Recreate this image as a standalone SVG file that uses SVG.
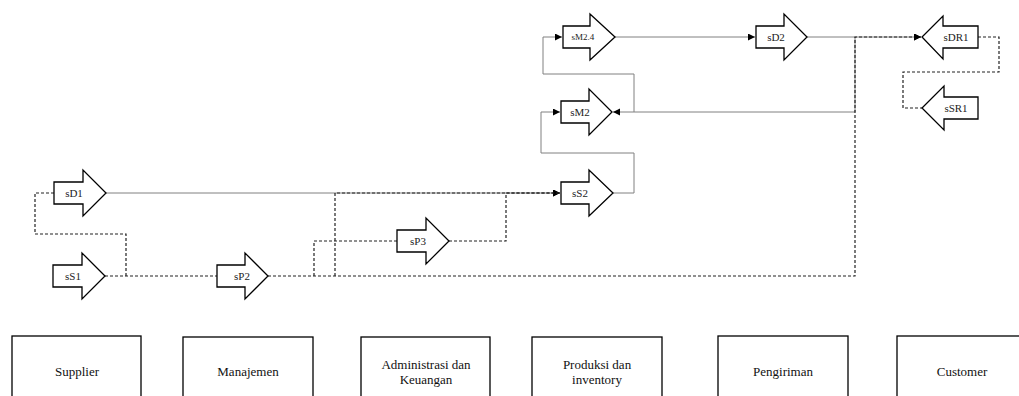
<svg xmlns="http://www.w3.org/2000/svg" width="1019" height="396" viewBox="0 0 1019 396">
  <style>
    .proc { fill: #ffffff; stroke: #000000; stroke-width: 1.3; stroke-linejoin: miter; }
    .lbl { font-family: "Liberation Serif", "Times New Roman", serif; font-size: 11px; fill: #222222; text-anchor: middle; }
    .lbl-s { font-size: 9px; }
    .lane { fill: #ffffff; stroke: #000000; stroke-width: 1.3; }
    .lane-t { font-family: "Liberation Serif", "Times New Roman", serif; font-size: 13px; fill: #111111; text-anchor: middle; }
    .flow { fill: none; stroke: #808080; stroke-width: 1; }
    .info { fill: none; stroke: #222222; stroke-width: 1.2; stroke-dasharray: 3 2; }
  </style>
  <defs>
    <marker id="tri" markerUnits="userSpaceOnUse" markerWidth="8" markerHeight="8" refX="7" refY="3.5" orient="auto">
      <path d="M0,0 L7,3.5 L0,7 Z" fill="#000000"/>
    </marker>
  </defs>

  <rect width="1019" height="396" fill="#ffffff"/>

  <!-- connectors -->
  <g id="connectors">
    <!-- solid material flows -->
    <path class="flow" d="M106,193 H560" marker-end="url(#tri)"/>
    <path class="flow" d="M613,193 H634 V153 H541 V112 H560" marker-end="url(#tri)"/>
    <path class="flow" d="M615,37 H755" marker-end="url(#tri)"/>
    <path class="flow" d="M807,37 H921" marker-end="url(#tri)"/>
    <path class="flow" d="M855,37 V112 H613" marker-end="url(#tri)"/>
    <path class="flow" d="M634,112 V74 H543 V37 H562" marker-end="url(#tri)"/>
    <!-- dashed information flows -->
    <path class="info" d="M105,276 H217"/>
    <path class="info" d="M126,276 V234 H35 V193 H54"/>
    <path class="info" d="M268,276 H855 V37 H921" marker-end="url(#tri)"/>
    <path class="info" d="M314,276 V241 H397"/>
    <path class="info" d="M335,276 V193 H560" marker-end="url(#tri)"/>
    <path class="info" d="M449,241 H506 V193 H560"/>
    <path class="info" d="M978,37 H999 V72 H903 V108 H922"/>
  </g>

  <!-- process arrows -->
  <g id="sD1">
    <polygon class="proc" points="54,182 83,182 83,170 106,193 83,216 83,204 54,204"/>
    <text class="lbl" x="74" y="197">sD1</text>
  </g>
  <g id="sS1">
    <polygon class="proc" points="53,265 82,265 82,253 105,276 82,299 82,287 53,287"/>
    <text class="lbl" x="73" y="280">sS1</text>
  </g>
  <g id="sP2">
    <polygon class="proc" points="217,265 245,265 245,253 268,276 245,299 245,287 217,287"/>
    <text class="lbl" x="242" y="280">sP2</text>
  </g>
  <g id="sP3">
    <polygon class="proc" points="397,230 426,230 426,218 449,241 426,264 426,252 397,252"/>
    <text class="lbl" x="418" y="245">sP3</text>
  </g>
  <g id="sS2">
    <polygon class="proc" points="561,182 589,182 589,170 613,193 589,216 589,204 561,204"/>
    <text class="lbl" x="580" y="197">sS2</text>
  </g>
  <g id="sM2">
    <polygon class="proc" points="561,101 589,101 589,89 612,112 589,135 589,123 561,123"/>
    <text class="lbl" x="580" y="116">sM2</text>
  </g>
  <g id="sM2.4">
    <polygon class="proc" points="563,26 590,26 590,14 615,37 590,60 590,48 563,48"/>
    <text class="lbl lbl-s" x="583" y="40">sM2.4</text>
  </g>
  <g id="sD2">
    <polygon class="proc" points="756,26 784,26 784,14 807,37 784,60 784,48 756,48"/>
    <text class="lbl" x="776" y="41">sD2</text>
  </g>
  <g id="sDR1">
    <polygon class="proc" points="978,26 943,26 943,16 922,37 943,59 943,48 978,48"/>
    <text class="lbl" x="956" y="41">sDR1</text>
  </g>
  <g id="sSR1">
    <polygon class="proc" points="978,97 944,97 944,86 922,108 944,130 944,119 978,119"/>
    <text class="lbl" x="956" y="112">sSR1</text>
  </g>

  <!-- swimlane headers -->
  <g id="supplier">
    <rect class="lane" x="12" y="336" width="129" height="70"/>
    <text class="lane-t" x="77" y="376">Supplier</text>
  </g>
  <g id="manajemen">
    <rect class="lane" x="183" y="337" width="130" height="70"/>
    <text class="lane-t" x="248" y="376">Manajemen</text>
  </g>
  <g id="administrasi">
    <rect class="lane" x="361" y="337" width="129" height="70"/>
    <text class="lane-t" x="426" y="369">Administrasi dan</text>
    <text class="lane-t" x="426" y="384">Keuangan</text>
  </g>
  <g id="produksi">
    <rect class="lane" x="532" y="337" width="130" height="70"/>
    <text class="lane-t" x="597" y="369">Produksi dan</text>
    <text class="lane-t" x="597" y="384">inventory</text>
  </g>
  <g id="pengiriman">
    <rect class="lane" x="718" y="336" width="130" height="70"/>
    <text class="lane-t" x="783" y="376">Pengiriman</text>
  </g>
  <g id="customer">
    <rect class="lane" x="897" y="336" width="130" height="70"/>
    <text class="lane-t" x="962" y="376">Customer</text>
  </g>
</svg>
